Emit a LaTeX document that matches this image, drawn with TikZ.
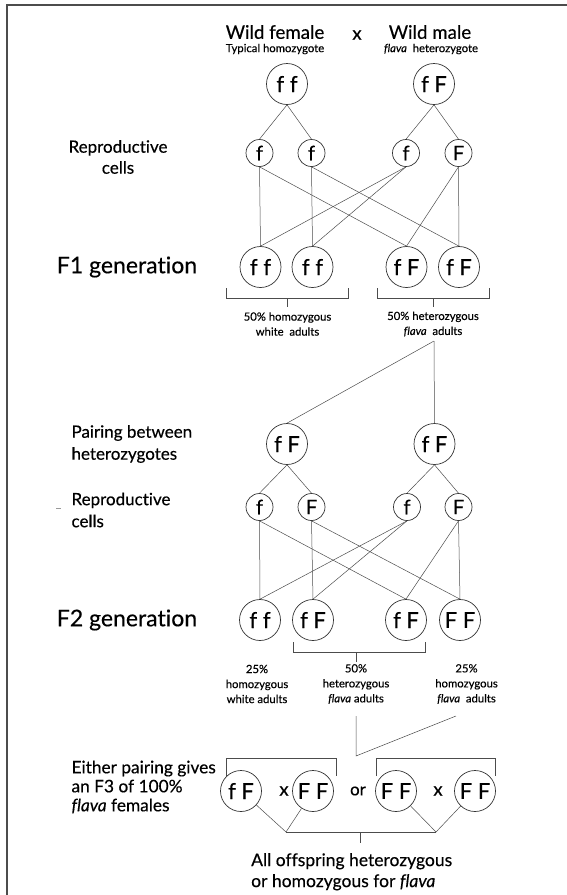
\documentclass[tikz,border=0pt]{standalone}
\usepackage{fontspec}
\setmainfont{Lato}[Ligatures=NoCommon,FakeBold=0.35]
\begin{document}
\begin{tikzpicture}[x=1pt,y=-1pt,
  con/.style={draw=black!70,line width=0.5pt},
  gen/.style={circle,draw=black!80,line width=0.7pt,minimum size=41pt,inner sep=0pt,font=\fontsize{22}{22}\selectfont},
  gam/.style={circle,draw=black!80,line width=0.7pt,minimum size=27pt,inner sep=0pt,font=\fontsize{20}{20}\selectfont},
  head/.style={font=\fontsize{18.7}{18.7}\selectfont},
  lbl/.style={font=\fontsize{17}{22}\selectfont,align=left,anchor=west},
  sml/.style={font=\fontsize{11.3}{15}\selectfont,align=center},
  big/.style={font=\fontsize{23}{24}\selectfont},
  brk/.style={draw=black!70,line width=0.6pt}
]
\useasboundingbox (0,0) rectangle (567,895);
\draw[line width=1.8pt,black!70] (7,895) -- (7,5) -- (567,5);

% header
\node[head] (wf) at (275,32) {Wild female};
\node[head] (xx) at (357,35) {x};
\node[head] (wm) at (430,32) {Wild male};
\node[sml] (th) at (275,49) {Typical homozygote};
\node[sml] (fh) at (431,49) {\textit{flava}\ \ heterozygote};

% parents
\node[gen] (pa) at (287,84) {f f};
\node[gen] (pb) at (434,84) {f F};

% gametes 1
\node[align=center,font=\fontsize{17}{21}\selectfont] (rc1) at (118,157) {Reproductive\\cells};
\node[gam] (g1) at (259.5,153) {f};
\node[gam] (g2) at (311.5,153) {f};
\node[gam] (g3) at (406,153) {f};
\node[gam] (g4) at (458.5,153) {F};
\draw[con] (pa.south) -- (g1.north);
\draw[con] (pa.south) -- (g2.north);
\draw[con] (pb.south) -- (g3.north);
\draw[con] (pb.south) -- (g4.north);

% F1
\node[big] (f1l) at (127,267) {F1 generation};
\node[gen] (a1) at (260.5,267) {f f};
\node[gen] (a2) at (312.5,267) {f f};
\node[gen] (a3) at (406.5,267) {f F};
\node[gen] (a4) at (459,267) {f F};
\draw[con] (g1.south) -- (a1.north);
\draw[con] (g1.south) -- (a3.north);
\draw[con] (g2.south) -- (a2.north);
\draw[con] (g2.south) -- (a4.north);
\draw[con] (g3.south) -- (a1.north);
\draw[con] (g3.south) -- (a2.north);
\draw[con] (g4.south) -- (a3.north);
\draw[con] (g4.south) -- (a4.north);

\draw[brk] (226,288) -- (226,298) -- (348,298) -- (348,288);
\draw[brk] (287.5,298) -- (287.5,307);
\draw[brk] (377,288) -- (377,298) -- (489,298) -- (489,288);
\draw[brk] (433,298) -- (433,307);
\node[sml] (t1) at (287.5,324) {50\% homozygous\\white\ \ adults};
\node[sml] (t2) at (433,324) {50\% heterozygous\\\textit{flava}\ \ adults};

% pairing
\coordinate (j1) at (434,341);
\node[lbl] (pl) at (68,444) {Pairing between\\heterozygotes};
\node[gen] (b1) at (287,444) {f F};
\node[gen] (b2) at (434.5,444) {f F};
\draw[con] (j1) -- (b1.north);
\draw[con] (j1) -- (b2.north);

% gametes 2
\draw[black!40,line width=0.5pt] (56,508) -- (61,508);
\node[lbl] (rc2) at (68,510) {Reproductive\\cells};
\node[gam] (h1) at (259.5,507) {f};
\node[gam] (h2) at (311.5,507) {F};
\node[gam] (h3) at (407,507) {f};
\node[gam] (h4) at (458.5,507) {F};
\draw[con] (b1.south) -- (h1.north);
\draw[con] (b1.south) -- (h2.north);
\draw[con] (b2.south) -- (h3.north);
\draw[con] (b2.south) -- (h4.north);

% F2
\node[big] (f2l) at (127,620) {F2 generation};
\node[gen] (c1) at (260,620) {f f};
\node[gen] (c2) at (313,620) {f F};
\node[gen] (c3) at (406,620) {f F};
\node[gen] (c4) at (460,620) {F F};
\draw[con] (h1.south) -- (c1.north);
\draw[con] (h1.south) -- (c3.north);
\draw[con] (h2.south) -- (c2.north);
\draw[con] (h2.south) -- (c4.north);
\draw[con] (h3.south) -- (c1.north);
\draw[con] (h3.south) -- (c2.north);
\draw[con] (h4.south) -- (c3.north);
\draw[con] (h4.south) -- (c4.north);

\draw[brk] (293,642) -- (293,652) -- (425,652) -- (425,642);
\draw[brk] (356,652) -- (356,662);
\node[sml] (u1) at (257,684) {25\%\\homozygous\\white adults};
\node[sml] (u2) at (356,684) {50\%\\heterozygous\\\textit{flava} adults};
\node[sml] (u3) at (466.5,684) {25\%\\homozygous\\\textit{flava}\ \ adults};

\coordinate (v1) at (356,716);
\coordinate (v2) at (456,716);
\coordinate (v0) at (356,756);
\draw[con] (v1) -- (v0) -- (v2);

% F3 pairings
\node[lbl,font=\fontsize{17.3}{19}\selectfont] (el) at (68,787) {Either pairing gives\\an F3 of 100\%\\\textit{flava} females};
\draw[brk] (226,776) -- (226,758) -- (336,758) -- (336,776);
\draw[brk] (376,776) -- (376,758) -- (495,758) -- (495,776);
\node[gen] (q1) at (241,791) {f F};
\node[head] (x2) at (284,791) {x};
\node[gen] (q2) at (313,791) {F F};
\node[font=\fontsize{17}{17}\selectfont] (or) at (358,791) {or};
\node[gen] (q3) at (396,791) {F F};
\node[head] (x3) at (438,791) {x};
\node[gen] (q4) at (475,791) {F F};

\coordinate (jl) at (286,832);
\coordinate (jr) at (436,832);
\coordinate (jm) at (360,832);
\coordinate (jb) at (360,843);
\draw[con] (q1) -- (jl) -- (q2);
\draw[con] (q3) -- (jr) -- (q4);
\draw[con] (jl) -- (jr);
\draw[con] (jm) -- (jb);

\node[lbl,font=\fontsize{17.5}{21}\selectfont,anchor=north west,inner sep=0pt] (fin) at (251,853) {All offspring heterozygous\\or homozygous for \textit{flava}};
\end{tikzpicture}
\end{document}
